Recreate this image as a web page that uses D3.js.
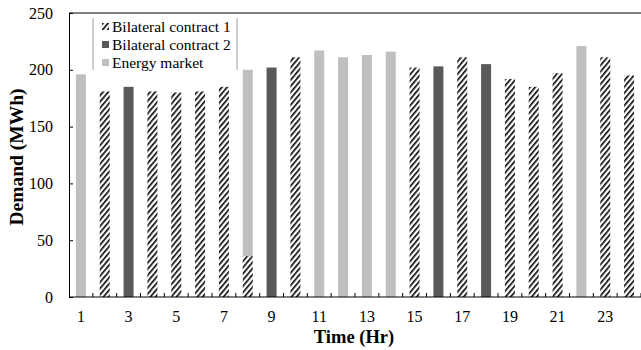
<!DOCTYPE html>
<html>
<head>
<meta charset="utf-8">
<script src="https://cdn.jsdelivr.net/npm/d3@7"></script>
<style>
  body { margin: 0; background: #fff; }
</style>
</head>
<body>
<script>
// hours and demand per source (MWh)
var hours = [1, 2, 3, 4, 5, 6, 7, 8, 9, 10, 11, 12, 13, 14, 15, 16, 17, 18, 19, 20, 21, 22, 23, 24];
var bilateral1 = [0, 181, 0, 181, 180, 181, 185, 36, 0, 211, 0, 0, 0, 0, 202, 0, 211, 0, 192, 185, 197, 0, 211, 195];
var bilateral2 = [0, 0, 185, 0, 0, 0, 0, 0, 202, 0, 0, 0, 0, 0, 0, 203, 0, 205, 0, 0, 0, 0, 0, 0];
var energyMarket = [196, 0, 0, 0, 0, 0, 0, 164, 0, 0, 217, 211, 213, 216, 0, 0, 0, 0, 0, 0, 0, 221, 0, 0];
var seriesNames = ["Bilateral contract 1", "Bilateral contract 2", "Energy market"];
var yTicks = [0, 50, 100, 150, 200, 250];

var FONT = "Liberation Serif, Times New Roman, serif";
var W = 641, H = 350;
var margin = {top: 13, right: 0, bottom: 53, left: 69};
var width = W - margin.left - margin.right;
var height = H - margin.top - margin.bottom;

var svg = d3.select("body").append("svg")
    .attr("width", W)
    .attr("height", H)
    .attr("font-family", FONT);

// hatch for bilateral contract 1
var defs = svg.append("defs");
var pat = defs.append("pattern")
    .attr("id", "hatch")
    .attr("patternUnits", "userSpaceOnUse")
    .attr("width", 4)
    .attr("height", 4)
    .attr("patternTransform", "rotate(40)");
pat.append("rect").attr("width", 4).attr("height", 4).attr("fill", "#fff");
pat.append("line")
    .attr("x1", 0).attr("y1", 0).attr("x2", 0).attr("y2", 4)
    .attr("stroke", "#000").attr("stroke-width", 3.2);

var fills = ["url(#hatch)", "#595959", "#bfbfbf"];

var x = d3.scaleBand().domain(hours).range([0, width]);
var y = d3.scaleLinear().domain([0, 250]).range([height, 0]);

var g = svg.append("g")
    .attr("transform", "translate(" + margin.left + "," + margin.top + ")");

// build stacked table from the arrays
var table = hours.map(function(h, i) {
    return {hour: h, b1: bilateral1[i], b2: bilateral2[i], em: energyMarket[i]};
});
var stack = d3.stack().keys(["b1", "b2", "em"]);
var layers = stack(table);

var barW = 10;
layers.forEach(function(layer, li) {
    g.selectAll(".bar-" + li)
        .data(layer.filter(function(d) { return d[1] - d[0] > 0; }))
        .enter()
        .append("rect")
            .attr("class", "bar-" + li)
            .attr("x", function(d) { return x(d.data.hour) + x.bandwidth() / 2 - barW / 2; })
            .attr("width", barW)
            .attr("y", function(d) { return y(d[1]); })
            .attr("height", function(d) { return y(d[0]) - y(d[1]); })
            .attr("fill", fills[li]);
});

// top frame line
g.append("line")
    .attr("x1", 0).attr("x2", width)
    .attr("y1", 0).attr("y2", 0)
    .attr("stroke", "#000");

// y axis
var yAxis = d3.axisLeft(y).tickValues(yTicks).tickSizeInner(-4).tickSizeOuter(0).tickPadding(16);
var yg = g.append("g").call(yAxis);
yg.select(".domain").attr("stroke", "#000");
yg.selectAll("text").attr("font-size", 16).attr("font-family", FONT).attr("fill", "#000");

// x axis: ticks at band edges, labels at odd hours
var xg = g.append("g").attr("transform", "translate(0," + height + ")");
xg.append("line").attr("x1", 0).attr("x2", width).attr("stroke", "#000");
xg.selectAll(".xt")
    .data(hours)
    .enter()
    .append("line")
        .attr("class", "xt")
        .attr("x1", function(d) { return x(d) + x.bandwidth(); })
        .attr("x2", function(d) { return x(d) + x.bandwidth(); })
        .attr("y1", 0).attr("y2", -4)
        .attr("stroke", "#000");
xg.selectAll(".xl")
    .data(hours.filter(function(d) { return d % 2 == 1; }))
    .enter()
    .append("text")
        .attr("class", "xl")
        .attr("x", function(d) { return x(d) + x.bandwidth() / 2; })
        .attr("y", 25)
        .attr("text-anchor", "middle")
        .attr("font-size", 16)
        .text(function(d) { return d; });

// axis titles
svg.append("text")
    .attr("x", margin.left + width / 2 - 1)
    .attr("y", 343)
    .attr("text-anchor", "middle")
    .attr("font-size", 18.5)
    .attr("font-weight", "bold")
    .text("Time (Hr)");

svg.append("text")
    .attr("transform", "translate(23," + (margin.top + height / 2 + 2) + ") rotate(-90)")
    .attr("text-anchor", "middle")
    .attr("font-size", 19.5)
    .attr("font-weight", "bold")
    .text("Demand (MWh)");

// legend
var legend = svg.append("g").attr("transform", "translate(93,15)");
legend.append("rect")
    .attr("width", 144).attr("height", 55)
    .attr("fill", "#fff");
legend.append("line").attr("x1", 0).attr("x2", 0).attr("y1", 3).attr("y2", 55).attr("stroke", "#999");
legend.append("line").attr("x1", 144).attr("x2", 144).attr("y1", 3).attr("y2", 55).attr("stroke", "#999");
seriesNames.forEach(function(name, i) {
    legend.append("rect")
        .attr("x", 9)
        .attr("y", 8 + i * 18)
        .attr("width", 7)
        .attr("height", 7)
        .attr("fill", fills[i]);
    legend.append("text")
        .attr("x", 19)
        .attr("y", 17 + i * 18)
        .attr("font-size", 15.5)
        .text(name);
});
</script>
</body>
</html>
